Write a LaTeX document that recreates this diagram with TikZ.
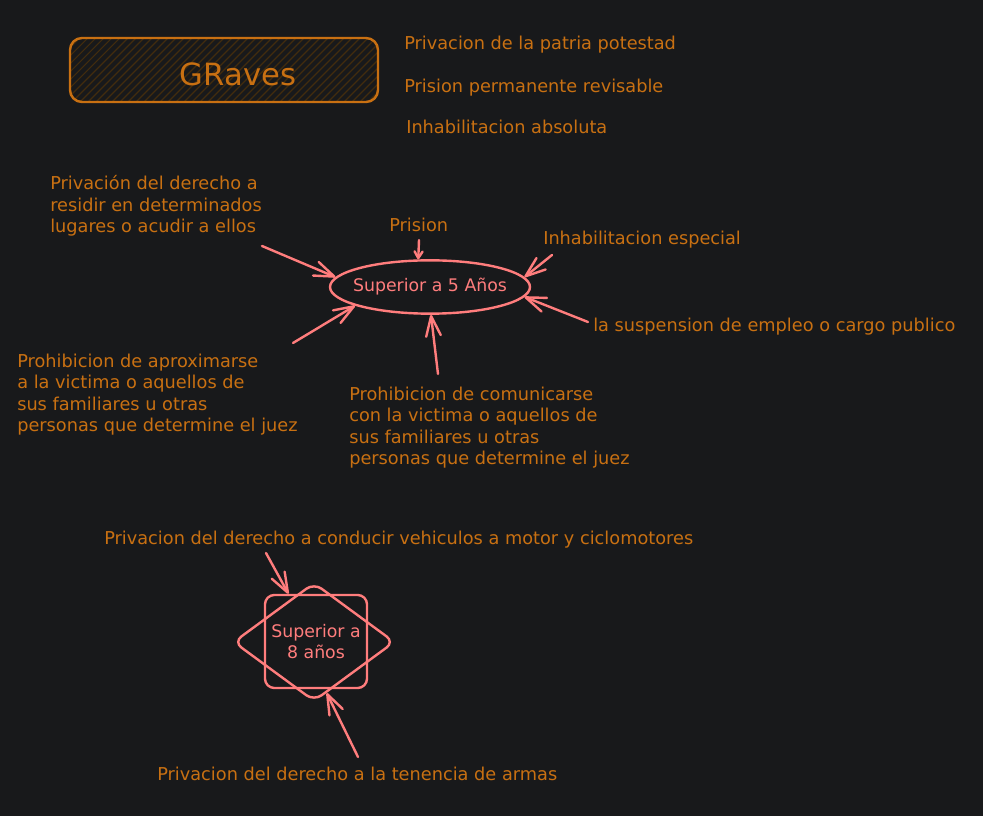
\documentclass[tikz,border=0pt]{standalone}
\usepackage{fontspec}
\setmainfont{DejaVu Sans}
\usetikzlibrary{arrows.meta,shapes.geometric}
\definecolor{bg}{RGB}{24,25,27}
\definecolor{org}{RGB}{200,112,18}
\definecolor{pk}{RGB}{255,125,125}
\definecolor{hatchc}{RGB}{66,44,14}
\begin{document}
\begin{tikzpicture}[x=0.75pt,y=-0.75pt,
  txt/.style={text=org, font=\fontsize{13.3}{16.2}\selectfont, inner sep=0pt, align=left, anchor=base west},
  pinktxt/.style={text=pk, font=\fontsize{13}{16.1}\selectfont},
  arr/.style={draw=pk, line width=1.8pt, line cap=round, -{Straight Barb[length=15pt,width=11pt,line width=1.8pt,round]}},
  arrsmall/.style={draw=pk, line width=1.8pt, line cap=round, -{Straight Barb[length=5pt,width=6pt,line width=1.8pt,round]}},
  pkshape/.style={draw=pk, line width=1.8pt}
]
\fill[bg] (0,0) rectangle (983,816);
\useasboundingbox (0,0) rectangle (983,816);

% hatched title box
\begin{scope}
  \clip[rounded corners=9pt] (70,38) rectangle (378,102);
  \foreach \k in {0,...,48} \draw[hatchc, line width=0.8pt] ({\k*8},102) -- ++(64,-64);
\end{scope}
\node[draw=org, line width=1.8pt, rounded corners=9pt, minimum width=231pt, minimum height=48pt, inner sep=0pt] (box) at (224,70) {};
\node[text=org, font=\fontsize{23}{28}\selectfont] (graves) at (238,74) {GRaves};

% texts (base anchor = baseline of the last line)
\node[txt] (t1) at (404,50) {Privacion de la patria potestad};
\node[txt] (t2) at (404,93) {Prision permanente revisable};
\node[txt] (t3) at (406,134) {Inhabilitacion absoluta};
\node[txt] (t4) at (50,233) {Privación del derecho a\\residir en determinados\\lugares o acudir a ellos};
\node[txt] (t5) at (389,232) {Prision};
\node[txt] (t6) at (543,245) {Inhabilitacion especial};
\node[txt] (t7) at (593,332) {la suspension de empleo o cargo publico};
\node[txt] (t8) at (17,432) {Prohibicion de aproximarse\\a la victima o aquellos de\\sus familiares u otras\\personas que determine el juez};
\node[txt] (t9) at (349,465) {Prohibicion de comunicarse\\con la victima o aquellos de\\sus familiares u otras\\personas que determine el juez};
\node[txt] (t10) at (104,545) {Privacion del derecho a conducir vehiculos a motor y ciclomotores};
\node[txt] (t11) at (157,781) {Privacion del derecho a la tenencia de armas};

% ellipse
\node[ellipse, pkshape, pinktxt, minimum width=150pt, minimum height=40pt, inner sep=0pt] (e5) at (430,287) {\makebox[0pt]{Superior a 5 Años}};

\coordinate (a1) at (262,246);
\coordinate (a2) at (293,343);
\coordinate (a3) at (419,240);
\coordinate (a4) at (552,255);
\coordinate (a5) at (588,322);
\coordinate (a6) at (438,374);
\draw[arr] (a1) -- (e5.174);
\draw[arr] (a2) -- (e5.194);
\draw[arrsmall] (a3) -- (e5.113);
\draw[arr] (a4) -- (e5.6);
\draw[arr] (a5) -- (e5.-6);
\draw[arr] (a6) -- (e5.272);

% bottom shapes
\node[diamond, pkshape, rounded corners=7pt, minimum width=121pt, minimum height=89pt, inner sep=0pt] (d8) at (314,642) {};
\node[pkshape, pinktxt, rounded corners=7pt, minimum width=76.5pt, minimum height=69.75pt, align=center, inner sep=0pt] (s8) at (316,641.5) {Superior a\\8 años};

\coordinate (a7) at (266,553);
\coordinate (a8) at (358,757);
\draw[arr] (a7) -- (s8.120);
\draw[arr] (a8) -- (d8.284);
\end{tikzpicture}
\end{document}
